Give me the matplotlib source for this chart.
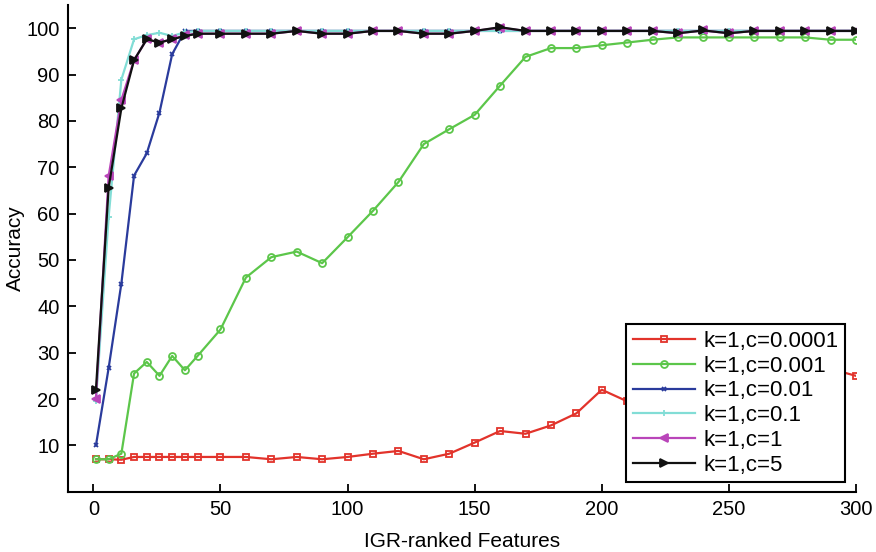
import matplotlib
matplotlib.use('Agg')
import matplotlib.pyplot as plt

plt.rcParams['font.family'] = ['Liberation Sans', 'DejaVu Sans']

# ------------------- data -------------------
n_features = [1, 6, 11, 16, 21, 26, 31, 36, 41, 50, 60, 70, 80, 90, 100, 110, 120,
              130, 140, 150, 160, 170, 180, 190, 200, 210, 220, 230, 240, 250, 260,
              270, 280, 290, 300]

acc_c00001 = [7.0, 7.0, 6.9, 7.5, 7.5, 7.5, 7.5, 7.5, 7.5, 7.5, 7.5, 7.0, 7.5, 7.0, 7.5,
              8.2, 8.8, 7.0, 8.2, 10.6, 13.1, 12.5, 14.3, 16.9, 22.0, 19.5, 21.5, 22.5,
              23.0, 22.5, 24.0, 25.0, 25.5, 26.5, 25.0]
acc_c0001 = [7.0, 7.0, 8.2, 25.5, 28.0, 25.0, 29.3, 26.2, 29.3, 35.0, 46.2, 50.6, 51.8,
             49.3, 54.9, 60.6, 66.8, 75.0, 78.2, 81.3, 87.6, 93.8, 95.7, 95.7, 96.3,
             96.9, 97.5, 98.0, 98.0, 98.0, 98.0, 98.0, 98.0, 97.5, 97.5]
acc_c001 = [10.0, 26.7, 44.9, 68.2, 73.0, 81.8, 94.4, 99.4, 99.4, 99.4, 99.4, 99.4, 99.4,
            99.4, 99.4, 99.4, 99.4, 99.4, 99.4, 99.4, 99.4, 99.4, 99.4, 99.4, 99.4,
            99.4, 99.4, 99.4, 99.4, 99.4, 99.4, 99.4, 99.4, 99.4, 99.4]
acc_c01 = [19.5, 59.3, 88.9, 97.6, 98.5, 99.0, 98.3, 99.1, 99.4, 99.4, 99.4, 99.4, 99.4,
           99.4, 99.4, 99.4, 99.4, 99.4, 99.4, 99.4, 99.4, 99.4, 99.4, 99.4, 99.4,
           99.4, 99.4, 99.4, 99.4, 99.4, 99.4, 99.4, 99.4, 99.4, 99.4]
acc_c1 = [20.0, 68.1, 84.5, 93.1, 97.6, 96.9, 97.6, 98.5, 98.8, 98.8, 98.8, 98.8, 99.4,
          98.8, 98.8, 99.4, 99.4, 98.8, 98.8, 99.4, 100.1, 99.4, 99.4, 99.4, 99.4,
          99.4, 99.4, 98.9, 99.5, 98.9, 99.4, 99.4, 99.4, 99.4, 99.4]
acc_c5 = [22.0, 65.6, 82.7, 93.1, 97.6, 96.9, 97.6, 98.3, 98.8, 98.8, 98.8, 98.8, 99.4,
          98.8, 98.8, 99.4, 99.4, 98.8, 98.8, 99.4, 100.2, 99.4, 99.4, 99.4, 99.4,
          99.4, 99.4, 98.9, 99.5, 98.9, 99.4, 99.4, 99.4, 99.4, 99.4]

series = [
    ('k=1,c=0.0001', acc_c00001, '#e2332b', 's', 4.0, 'none'),
    ('k=1,c=0.001', acc_c0001, '#5cc64a', 'o', 5.0, 'none'),
    ('k=1,c=0.01', acc_c001, '#2a3b9c', 'x', 3.5, None),
    ('k=1,c=0.1', acc_c01, '#82ddd6', '+', 5.0, None),
    ('k=1,c=1', acc_c1, '#b945b9', '<', 6.0, None),
    ('k=1,c=5', acc_c5, '#111111', '>', 6.0, None),
]

# ------------------- plot -------------------
fig = plt.figure(figsize=(8.76, 5.52), dpi=100)
ax = fig.add_axes([0.0776, 0.1092, 0.8995, 0.8818])

for label, acc, color, marker, ms, mfc in series:
    kw = dict(color=color, lw=1.6, marker=marker, ms=ms, mew=1.3, label=label)
    if mfc is not None:
        kw['mfc'] = mfc
    ax.plot(n_features, acc, **kw)

ax.set_xlim(-10, 300)
ax.set_ylim(0, 105)
ax.set_xticks([0, 50, 100, 150, 200, 250, 300])
ax.set_yticks([10, 20, 30, 40, 50, 60, 70, 80, 90, 100])
ax.spines['top'].set_visible(False)
ax.spines['right'].set_visible(False)
ax.spines['left'].set_linewidth(1.5)
ax.spines['bottom'].set_linewidth(1.5)
ax.tick_params(direction='in', length=6, width=1.3, labelsize=14.5, pad=6)
ax.set_xlabel('IGR-ranked Features', fontsize=15, labelpad=9)
ax.set_ylabel('Accuracy', fontsize=15, labelpad=1)

leg = ax.legend(loc='lower right', bbox_to_anchor=(0.986, 0.019), fontsize=16,
                fancybox=False, framealpha=1, edgecolor='black', handlelength=2.8,
                handletextpad=0.35, labelspacing=0.17, borderpad=0.3,
                borderaxespad=0)
leg.get_frame().set_linewidth(1.5)

fig.savefig('out.png', dpi=100)
